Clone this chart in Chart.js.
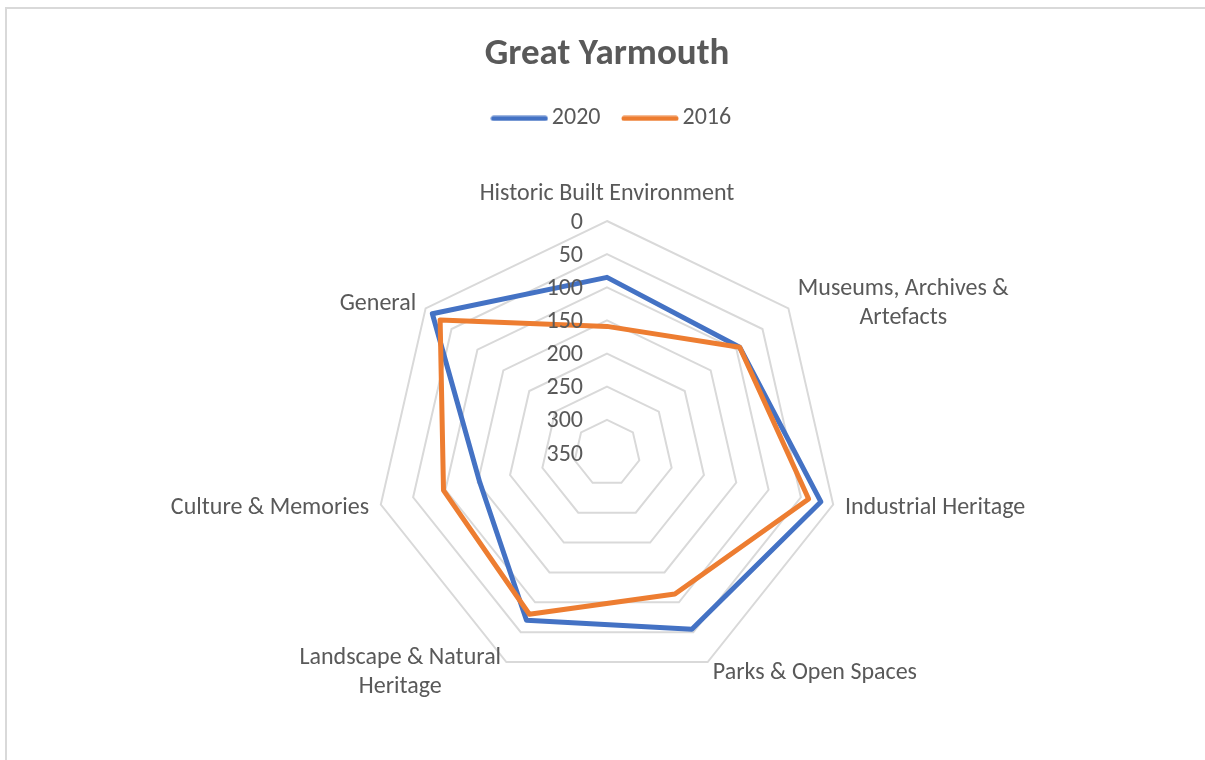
<!DOCTYPE html>
<html>
<head>
<meta charset="utf-8">
<title>Great Yarmouth</title>
<script src="https://cdn.jsdelivr.net/npm/chart.js@4.4.1/dist/chart.umd.min.js"></script>
<style>
  html, body { margin: 0; padding: 0; background: #fff; overflow: hidden; }
  .frame { position: absolute; left: 5px; top: 7px; width: 1400px; height: 1000px; border: 2px solid #d9d9d9; }
  .wrap { position: absolute; left: 0; top: 0; width: 1205px; height: 800px; }
</style>
</head>
<body>
<div class="frame"></div>
<div class="wrap"><canvas id="chart"></canvas></div>
<script>
// ---------------- Data ----------------
const categories = [
  ["Historic Built Environment"],
  ["Museums, Archives &", "Artefacts"],
  ["Industrial Heritage"],
  ["Parks & Open Spaces"],
  ["Landscape & Natural", "Heritage"],
  ["Culture & Memories"],
  ["General"],
];
const series2020 = [85, 94, 19, 55, 70, 153, 13];
const series2016 = [159, 94, 38, 114, 80, 97, 28];
const tickValues = [0, 50, 100, 150, 200, 250, 300, 350];

const BLUE = "#4472C4";
const ORANGE = "#ED7D31";
const TEXT = "#595959";
const FONT = "Carlito, Calibri, Lato, sans-serif";
const FS = 24;

// legend marker: a short thick line with round ends
function legendLine(color) {
  const c = document.createElement("canvas");
  c.width = 58;
  c.height = 6;
  const g = c.getContext("2d");
  g.strokeStyle = color;
  g.lineWidth = 5;
  g.lineCap = "round";
  g.beginPath();
  g.moveTo(3, 3);
  g.lineTo(55, 3);
  g.stroke();
  return c;
}

// nudge the legend row a little to the right, like Excel does
const legendShift = {
  id: "legendShift",
  afterLayout(chart) {
    chart.legend.left += 8;
    chart.legend.right += 8;
  },
};

// tick numbers left of the vertical axis + category labels, Excel style
const radarText = {
  id: "radarText",
  afterDraw(chart) {
    const r = chart.scales.r;
    const ctx = chart.ctx;
    ctx.save();
    ctx.fillStyle = TEXT;
    ctx.font = `${FS}px ${FONT}`;
    ctx.textBaseline = "middle";
    const dy = 1.5;

    ctx.textAlign = "right";
    tickValues.forEach((v) => {
      const d = r.getDistanceFromCenterForValue(v);
      ctx.fillText(String(v), r.xCenter - 24, r.yCenter - d + dy);
    });

    ctx.textAlign = "center";
    const lh = 29;
    categories.forEach((lines, i) => {
      const p = r.getPointPosition(i, r.drawingArea);
      const a = r.getIndexAngle(i);
      const sx = Math.sin(a);
      const sy = -Math.cos(a);
      const w = Math.max(...lines.map((t) => ctx.measureText(t).width));
      let cx, cy;
      if (Math.abs(sx) < 0.05) {
        cx = p.x;
        cy = p.y - 29;
      } else {
        const ax = p.x + 12 * sx;
        cx = sx > 0 ? ax + w / 2 : ax - w / 2;
        cy = p.y + 10 * sy;
      }
      const top = cy + dy - ((lines.length - 1) * lh) / 2;
      lines.forEach((t, k) => ctx.fillText(t, cx, top + k * lh));
    });
    ctx.restore();
  },
};

new Chart(document.getElementById("chart"), {
  type: "radar",
  data: {
    labels: categories,
    datasets: [
      {
        label: "2020",
        data: series2020,
        borderColor: BLUE,
        backgroundColor: BLUE,
        borderWidth: 5,
        borderJoinStyle: "round",
        pointRadius: 0,
        pointHoverRadius: 0,
        pointStyle: legendLine(BLUE),
        fill: false,
        order: 2,
      },
      {
        label: "2016",
        data: series2016,
        borderColor: ORANGE,
        backgroundColor: ORANGE,
        borderWidth: 5,
        borderJoinStyle: "round",
        pointRadius: 0,
        pointHoverRadius: 0,
        pointStyle: legendLine(ORANGE),
        fill: false,
        order: 1,
      },
    ],
  },
  options: {
    responsive: true,
    maintainAspectRatio: false,
    animation: false,
    layout: { padding: { left: 375, right: 366, top: 0, bottom: 33 } },
    plugins: {
      title: {
        display: true,
        text: "Great Yarmouth",
        color: TEXT,
        font: { family: FONT, size: 37, weight: "bold" },
        padding: { top: 33, bottom: 0 },
      },
      legend: {
        position: "top",
        labels: {
          usePointStyle: true,
          pointStyleWidth: 41,
          color: TEXT,
          font: { family: FONT, size: FS },
          padding: 29,
          sort: (a, b) => a.datasetIndex - b.datasetIndex,
        },
      },
      tooltip: { enabled: false },
    },
    scales: {
      r: {
        min: 0,
        max: 350,
        reverse: true,
        ticks: { display: false, stepSize: 50 },
        pointLabels: { display: false },
        angleLines: { display: false },
        grid: { color: "#d9d9d9", lineWidth: 2 },
      },
    },
  },
  plugins: [radarText, legendShift],
});
</script>
</body>
</html>
